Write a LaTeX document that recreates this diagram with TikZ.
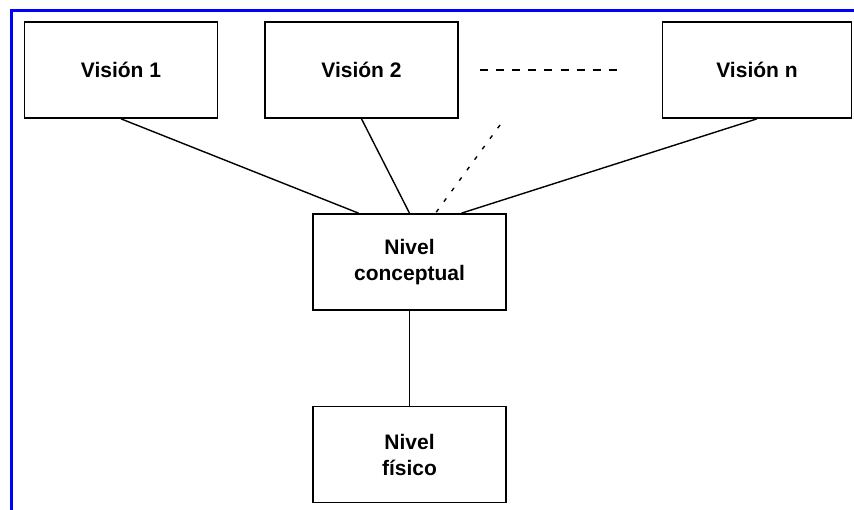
\documentclass[tikz,border=0pt]{standalone}
\usepackage{fontspec}
\setmainfont{Liberation Sans}
\usetikzlibrary{positioning}

\begin{document}
\begin{tikzpicture}[
						x=1pt, y=-1pt,
						node distance=192.5pt,
						main/.style = {draw, rectangle, line width=1.7pt, minimum width=193pt, minimum height=96pt, inner sep=2pt, align=center, font=\bfseries\fontsize{21}{26}\selectfont},
						link/.style = {line width=1.4pt}
					]
					\useasboundingbox (0,0) rectangle (854,510);
					\draw[blue, line width=3pt] (854,10.5) -- (11.5,10.5) -- (11.5,510);
					\node[main] (v1) at (121,70) {Visión 1};
					\node[main] (v2) at (361.5,70) {Visión 2};
					\node[main, minimum width=189pt] (vn) at (757,70) {Visión n};
					\node[main] (conc) at (409.5,262) {Nivel\\conceptual};
					\node[main] (fis) [below of=conc] {Nivel\\físico};
					\coordinate (d1) at (480,70);
					\coordinate (d2) at (617,70);
					\coordinate (dt) at (500,125);
					\draw[link, dash pattern=on 8pt off 8.1pt] (d1) -- (d2);
					\draw[link] (v1.south) to ([xshift=-51pt]conc.north);
					\draw[link] (v2.south) to (conc.north);
					\draw[link, dash pattern=on 4pt off 9pt] (dt) to ([xshift=26pt]conc.north);
					\draw[link] (vn.south) to ([xshift=52pt]conc.north);
					\draw[link] (conc) to (fis);
				\end{tikzpicture}
\end{document}
